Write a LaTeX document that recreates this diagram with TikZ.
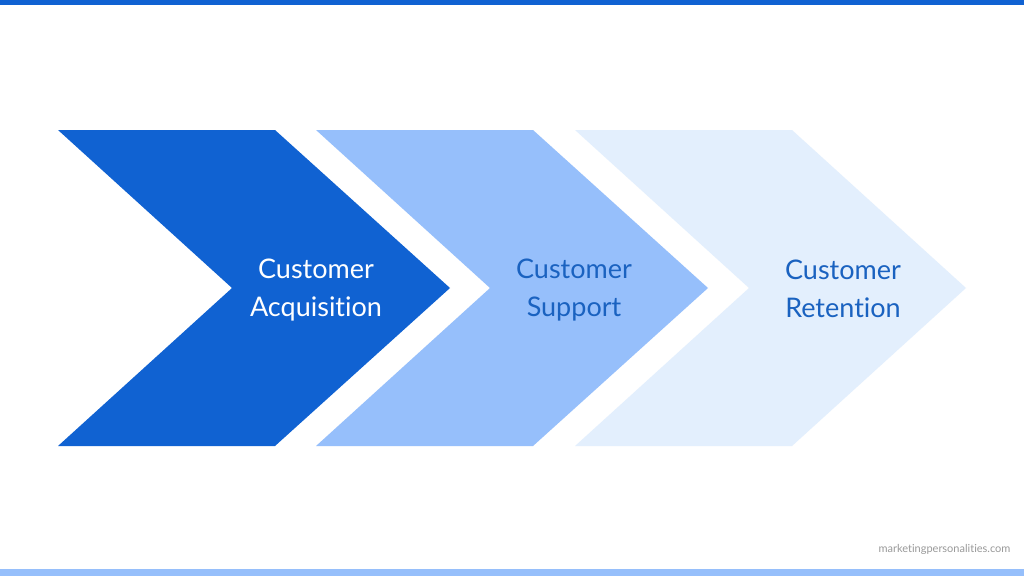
\documentclass[tikz,border=0pt]{standalone}
\usepackage{fontspec}
\setmainfont[Ligatures={NoCommon}]{Lato}
\definecolor{darkblue}{HTML}{1062D2}
\definecolor{midblue}{HTML}{96BFFB}
\definecolor{paleblue}{HTML}{E3EFFD}
\definecolor{textblue}{HTML}{1A62C0}
\tikzset{
  stage/.style={font=\fontsize{27}{38}\selectfont, align=center},
}
\begin{document}
\begin{tikzpicture}[x=1pt,y=-1pt]
        \useasboundingbox (0,0) rectangle (1024,576);
        \fill[white] (0,0) rectangle (1024,576);
        \fill[darkblue] (0,0) rectangle (1024,5);
        \fill[midblue] (0,569) rectangle (1024,576);

        \fill[darkblue] (58,130) -- (275,130) -- (450,288) -- (275,446) -- (58,446) -- (232,288) -- cycle;
        \fill[midblue] (316,130) -- (533,130) -- (708,288) -- (533,446) -- (316,446) -- (490,288) -- cycle;
        \fill[paleblue] (575,130) -- (792,130) -- (966,288) -- (792,446) -- (575,446) -- (749,288) -- cycle;

        \node[stage, text=white] (A1) at (316,290) {Customer\\Acquisition};
        \node[stage, text=textblue] (A2) at (574,290) {Customer\\Support};
        \node[stage, text=textblue] (A3) at (843,289) {Customer\\Retention};

        \node[text=gray!80, font=\fontsize{11}{13}\selectfont, anchor=east] (W) at (1014,549) {marketingpersonalities.com};
\end{tikzpicture}
\end{document}
